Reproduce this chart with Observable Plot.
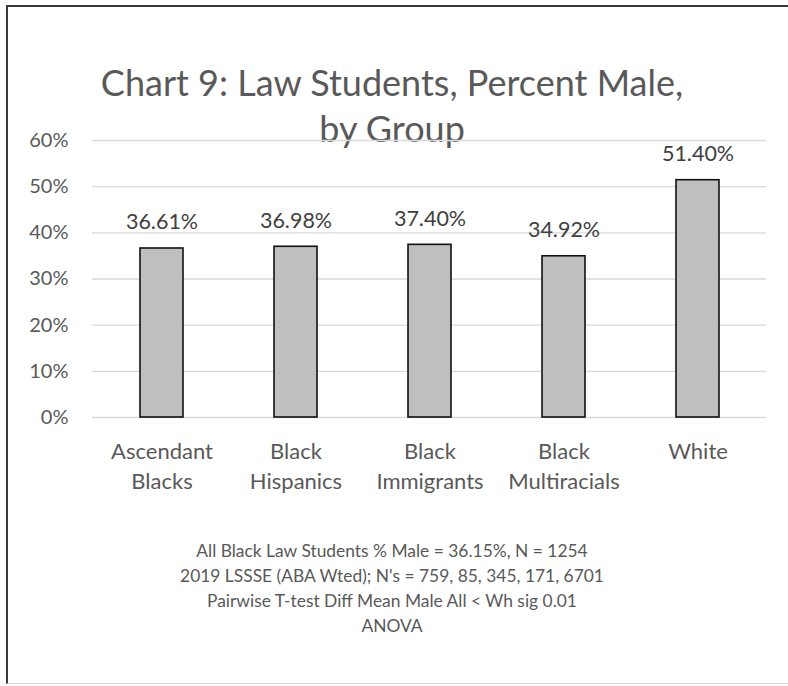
<!DOCTYPE html>
<html>
<head>
<meta charset="utf-8">
<script src="https://cdn.jsdelivr.net/npm/d3@7"></script>
<script src="https://cdn.jsdelivr.net/npm/@observablehq/plot@0.6"></script>
<style>
  html, body { margin: 0; padding: 0; background: #fff; }
  body { width: 788px; height: 686px; position: relative; overflow: hidden; font-family: Lato, "Open Sans", sans-serif; }
  #frame { position: absolute; left: 6px; top: 5px; width: 800px; height: 679px; border-top: 2px solid #3a3a3a; border-left: 2px solid #3a3a3a; border-bottom: 1px solid #d9d9d9; box-sizing: border-box; }
  #title { position: absolute; left: 0; width: 784px; top: 59px; text-align: center; color: #595959; font-size: 36px; line-height: 46px; }
  #chart { position: absolute; left: 0; top: 120px; }
  #caption { position: absolute; left: 0; width: 784px; top: 538px; text-align: center; color: #595959; font-size: 17.4px; line-height: 25px; }
</style>
</head>
<body>
<div id="frame"></div>
<div id="title">Chart 9: Law Students, Percent Male,<br>by Group</div>
<div id="chart"></div>
<div id="caption"></div>
<script>
const categories = ["Ascendant Blacks", "Black Hispanics", "Black Immigrants", "Black Multiracials", "White"];
const percentMale = [36.61, 36.98, 37.40, 34.92, 51.40];
const yTicks = [0, 10, 20, 30, 40, 50, 60];
const captionLines = [
  "All Black Law Students % Male = 36.15%, N = 1254",
  "2019 LSSSE (ABA Wted); N's = 759, 85, 345, 171, 6701",
  "Pairwise T-test Diff Mean Male All < Wh sig 0.01",
  "ANOVA"
];

const data = categories.map((c, i) => ({category: c, value: percentMale[i]}));

const chart = Plot.plot({
  width: 788,
  height: 400,
  marginTop: 20,
  marginBottom: 103,
  marginLeft: 92,
  marginRight: 22,
  style: {fontFamily: "Lato, 'Open Sans', sans-serif", background: "transparent"},
  x: {domain: categories, paddingInner: 0.68, paddingOuter: 0.34, axis: null},
  y: {domain: [0, 60], axis: null},
  marks: [
    Plot.ruleY(yTicks, {stroke: "#d9d9d9", strokeWidth: 1.4}),
    Plot.axisY({ticks: yTicks, tickSize: 0, tickPadding: 24, tickFormat: d => d + "%", fontSize: 20, fill: "#595959", label: null}),
    Plot.barY(data, {x: "category", y: "value", fill: "#bfbfbf", stroke: "#111", strokeWidth: 1.6}),
    Plot.text(data, {x: "category", y: "value", text: d => d.value.toFixed(2) + "%", lineAnchor: "bottom", dy: -19, fontSize: 21.5, fill: "#404040"}),
    Plot.text(data, {x: "category", y: () => 0, text: d => d.category.replace(" ", "\n"), lineAnchor: "top", dy: 20, lineHeight: 1.37, fontSize: 22, fill: "#595959"})
  ]
});
document.getElementById("chart").appendChild(chart);
document.getElementById("caption").innerHTML = captionLines.join("<br>");
</script>
</body>
</html>
